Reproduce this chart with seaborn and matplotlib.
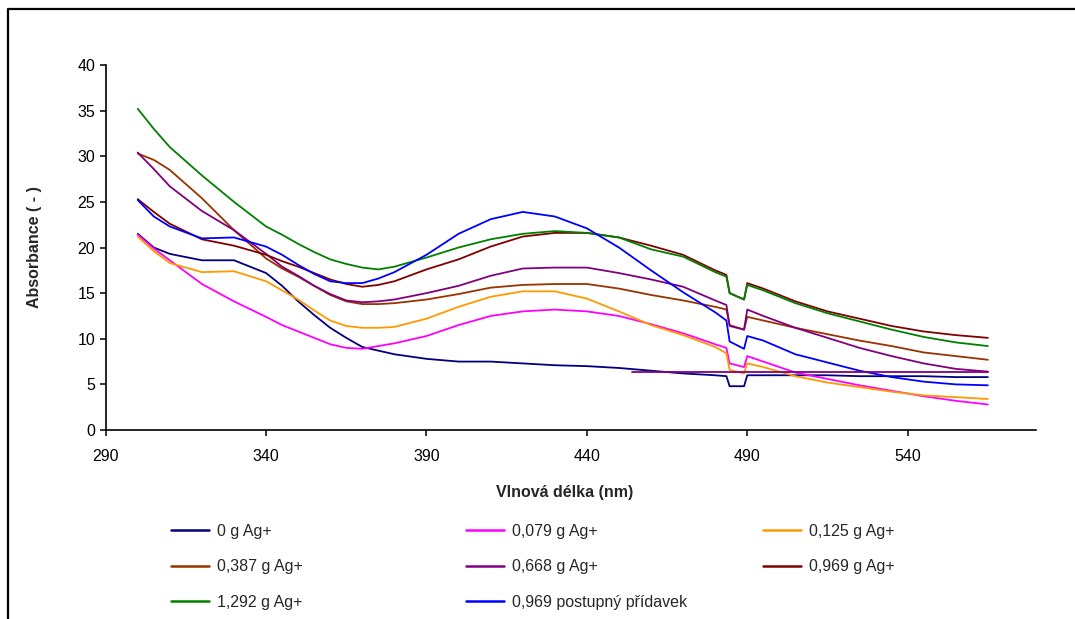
import seaborn as sns
import matplotlib.pyplot as plt
import numpy as np
import pandas as pd
from matplotlib.lines import Line2D

# wavelengths (nm) and absorbance
wavelength = [300, 305, 310, 320, 330, 340, 345, 350, 355, 360, 365, 370, 375, 380,
              390, 400, 410, 420, 430, 440, 450, 460, 470, 480, 483.5, 484.5, 489, 490,
              495, 505, 515, 525, 535, 545, 555, 565]

ag_0 = [21.5, 20.0, 19.3, 18.6, 18.6, 17.2, 15.8, 14.1, 12.6, 11.2, 10.1, 9.1, 8.7, 8.3,
        7.8, 7.5, 7.5, 7.3, 7.1, 7.0, 6.8, 6.5, 6.2, 6.0, 5.9, 4.8, 4.8, 6.0,
        6.0, 6.0, 6.0, 5.9, 5.9, 5.9, 5.8, 5.8]
ag_0079 = [21.4, 19.9, 18.6, 16.0, 14.1, 12.4, 11.5, 10.8, 10.1, 9.4, 9.0, 8.9, 9.2, 9.5,
           10.3, 11.5, 12.5, 13.0, 13.2, 13.0, 12.5, 11.6, 10.6, 9.4, 9.0, 7.3, 6.9, 8.1,
           7.5, 6.3, 5.6, 4.9, 4.3, 3.7, 3.2, 2.8]
ag_0125 = [21.2, 19.6, 18.3, 17.3, 17.4, 16.3, 15.3, 14.3, 13.1, 12.0, 11.4, 11.2, 11.2, 11.3,
           12.2, 13.5, 14.6, 15.2, 15.2, 14.4, 13.0, 11.5, 10.4, 9.1, 8.4, 6.6, 6.2, 7.3,
           6.9, 5.9, 5.2, 4.7, 4.2, 3.8, 3.6, 3.4]
ag_0387 = [30.3, 29.6, 28.5, 25.4, 21.9, 18.8, 17.7, 16.8, 15.8, 14.8, 14.1, 13.8, 13.8, 13.9,
           14.3, 14.9, 15.6, 15.9, 16.0, 16.0, 15.5, 14.8, 14.2, 13.5, 13.2, 11.5, 11.0, 12.4,
           12.0, 11.2, 10.5, 9.8, 9.2, 8.5, 8.1, 7.7]
ag_0668 = [30.4, 28.6, 26.7, 24.0, 21.9, 19.3, 17.9, 16.9, 15.8, 14.9, 14.2, 14.0, 14.1, 14.3,
           15.0, 15.8, 16.9, 17.7, 17.8, 17.8, 17.2, 16.5, 15.7, 14.2, 13.7, 11.4, 11.0, 13.2,
           12.5, 11.2, 10.1, 9.0, 8.1, 7.3, 6.7, 6.4]
ag_0969 = [25.3, 23.9, 22.6, 20.9, 20.2, 19.2, 18.5, 17.9, 17.2, 16.5, 16.0, 15.7, 15.9, 16.3,
           17.6, 18.7, 20.1, 21.2, 21.6, 21.6, 21.1, 20.2, 19.2, 17.5, 17.0, 15.0, 14.3, 16.1,
           15.5, 14.1, 13.0, 12.2, 11.4, 10.8, 10.4, 10.1]
ag_1292 = [35.2, 33.0, 31.0, 27.9, 25.0, 22.3, 21.4, 20.4, 19.5, 18.7, 18.2, 17.8, 17.6, 17.9,
           18.9, 20.0, 20.9, 21.5, 21.8, 21.6, 21.1, 19.8, 19.0, 17.3, 16.8, 15.0, 14.3, 15.9,
           15.3, 13.9, 12.8, 11.9, 11.0, 10.2, 9.6, 9.2]
ag_0969_step = [25.2, 23.4, 22.3, 21.0, 21.1, 20.1, 19.2, 18.1, 17.1, 16.3, 16.1, 16.1, 16.6, 17.3,
                19.2, 21.5, 23.1, 23.9, 23.4, 22.1, 20.0, 17.5, 15.1, 12.9, 12.0, 9.7, 8.9, 10.3,
                9.8, 8.3, 7.4, 6.5, 5.8, 5.3, 5.0, 4.9]

# extra flat purple line at the right (no legend entry)
flat_wl = [454, 565]
flat_val = [6.4, 6.4]

labels = ["0 g Ag+", "0,079 g Ag+", "0,125 g Ag+", "0,387 g Ag+", "0,668 g Ag+",
          "0,969 g Ag+", "1,292 g Ag+", "0,969 postupný přídavek"]
series = [ag_0, ag_0079, ag_0125, ag_0387, ag_0668, ag_0969, ag_1292, ag_0969_step]
colors = ["#000080", "#FF00FF", "#FF9900", "#993300", "#800080", "#800000", "#008000", "#0000FF"]

df = pd.concat([pd.DataFrame({"wl": wavelength, "A": s, "serie": lab})
                for s, lab in zip(series, labels)], ignore_index=True)

sns.set_theme(style="ticks")
plt.rcParams['font.family'] = ['Liberation Sans', 'DejaVu Sans']

fig = plt.figure(figsize=(10.75, 6.19), dpi=100)
ax = fig.add_axes([0.0983, 0.3053, 0.8654, 0.5897])

sns.lineplot(data=df, x="wl", y="A", hue="serie", hue_order=labels,
             palette=dict(zip(labels, colors)), sort=False, linewidth=1.3, ax=ax)
sns.lineplot(x=flat_wl, y=flat_val, color="#800080", linewidth=1.3, ax=ax, legend=False)

handles, labs = ax.get_legend_handles_labels()
ax.get_legend().remove()

ax.set_xlim(290, 580)
ax.set_ylim(0, 40)
ax.set_xticks(np.arange(290, 541, 50))
ax.set_yticks(np.arange(0, 41, 5))
ax.tick_params(axis="both", labelsize=11.5, length=4, width=1.1, color="black",
               direction="out", labelcolor="black")
ax.tick_params(axis="x", pad=10)
for side in ["top", "right"]:
    ax.spines[side].set_visible(False)
for side in ["left", "bottom"]:
    ax.spines[side].set_linewidth(1.2)
    ax.spines[side].set_color("black")
ax.set_xlabel("")
ax.set_ylabel("")

fig.text(565 / 1075, 1 - 492 / 619, "Vlnová délka (nm)", ha="center", va="center",
         fontsize=11.5, fontweight="bold")
fig.text(35 / 1075, 1 - 247 / 619, "Absorbance ( - )", ha="center", va="center",
         rotation=90, fontsize=11.5, fontweight="bold")

# legend in three columns, filled row by row like the original
cols_x = [171, 466, 763]
for c in range(3):
    idx = [i for i in range(len(labels)) if i % 3 == c]
    leg = fig.legend([handles[i] for i in idx], [labs[i] for i in idx],
                     loc="upper left", bbox_to_anchor=(cols_x[c] / 1075, 1 - 524 / 619),
                     frameon=False, fontsize=11.5, handlelength=2.4, handletextpad=0.5,
                     labelspacing=1.28, borderpad=0, borderaxespad=0)
    for h in leg.get_lines():
        h.set_linewidth(1.8)

# outer frame (left and top edges visible)
fig.add_artist(Line2D([8.3 / 1075, 8.3 / 1075, 1.0], [0.0, 1 - 9.3 / 619, 1 - 9.3 / 619],
                      transform=fig.transFigure, color="black", linewidth=1.6))

fig.savefig("out.png", dpi=100)
